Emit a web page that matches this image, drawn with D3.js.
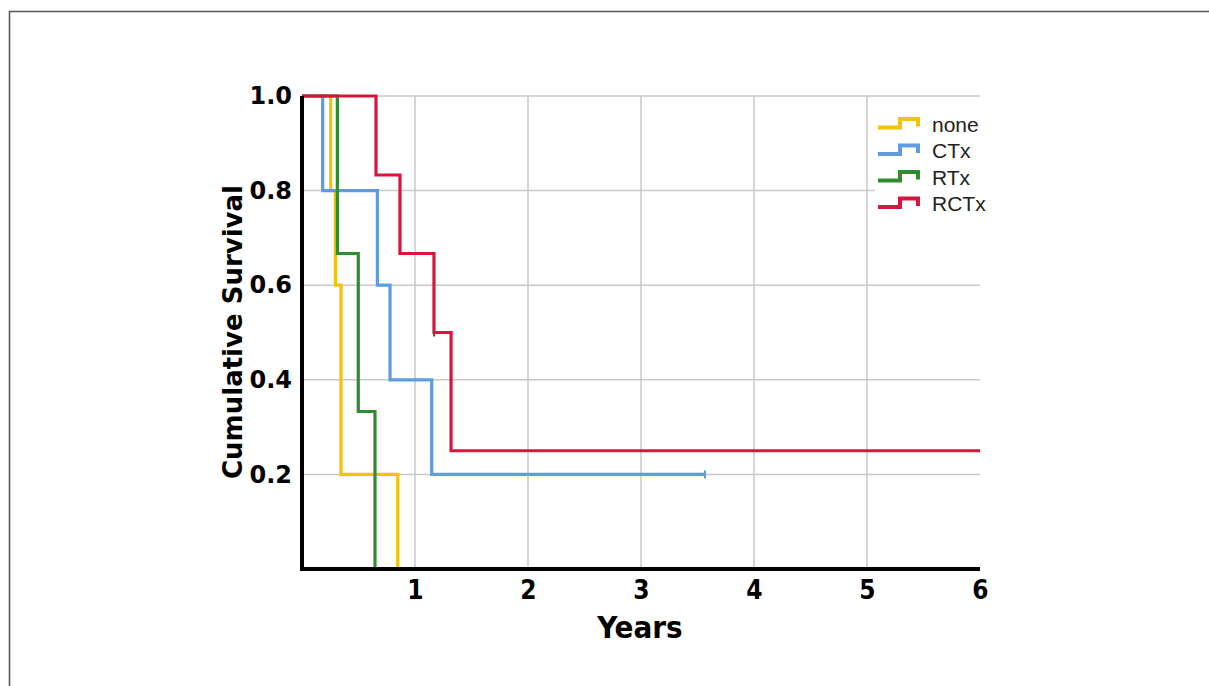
<!DOCTYPE html>
<html>
<head>
<meta charset="utf-8">
<script src="https://cdn.jsdelivr.net/npm/d3@7"></script>
<style>
  html, body { margin: 0; padding: 0; background: #fff; }
  svg { display: block; }
</style>
</head>
<body>
<svg id="chart" width="1209" height="686"></svg>
<script>
// Kaplan-Meier survival by treatment group (time in years)
const groupNames = ["none", "CTx", "RTx", "RCTx"];

const noneTimes = [0, 0.254, 0.296, 0.345, 0.847];
const noneSurv  = [1.0, 0.8, 0.6, 0.2, 0.0];

const ctxTimes = [0, 0.183, 0.667, 0.779, 1.148];
const ctxSurv  = [1.0, 0.8, 0.6, 0.4, 0.2];
const ctxEnd   = 3.566;

const rtxTimes = [0, 0.313, 0.498, 0.646];
const rtxSurv  = [1.0, 0.667, 0.333, 0.0];

const rctxTimes = [0, 0.655, 0.867, 1.168, 1.319];
const rctxSurv  = [1.0, 0.833, 0.667, 0.5, 0.25];
const rctxEnd   = 6;

// censored observations: [time, survival]
const ctxCensored  = [[3.566, 0.2]];
const rctxCensored = [[1.168, 0.5]];

const xTicks = [1, 2, 3, 4, 5, 6];
const yTicks = [0.2, 0.4, 0.6, 0.8, 1.0];

const colors = {
  none: "#f5c20a",
  CTx:  "#5e9be0",
  RTx:  "#2f8c2f",
  RCTx: "#d5173e"
};

const svg = d3.select("#chart");

// outer frame
svg.append("rect")
  .attr("x", 9.5).attr("y", 11.5)
  .attr("width", 1300).attr("height", 800)
  .attr("fill", "none")
  .attr("stroke", "#555").attr("stroke-width", 1.5);

const x = d3.scaleLinear().domain([0, 6]).range([302, 980]);
const y = d3.scaleLinear().domain([0, 1]).range([569, 96]);

// grid
const grid = svg.append("g");
grid.selectAll("line.h").data(yTicks).join("line")
  .attr("x1", x(0)).attr("x2", x(6))
  .attr("y1", d => y(d)).attr("y2", d => y(d))
  .attr("stroke", "#c9c9c9").attr("stroke-width", 1.5);
grid.selectAll("line.v").data(xTicks.filter(d => d < 6)).join("line")
  .attr("x1", d => x(d)).attr("x2", d => x(d))
  .attr("y1", y(1)).attr("y2", y(0))
  .attr("stroke", "#c9c9c9").attr("stroke-width", 1.5);

// axes
const xAxis = d3.axisBottom(x).tickValues(xTicks).tickSize(0).tickPadding(12)
  .tickFormat(d3.format("d"));
const gx = svg.append("g").attr("transform", `translate(0,${y(0)})`).call(xAxis);
gx.select(".domain").remove();
gx.selectAll("text")
  .attr("font-family", "'Liberation Sans Narrow', 'DejaVu Sans Condensed', sans-serif")
  .attr("font-weight", "bold").attr("font-size", 26).attr("fill", "#000");

const yAxis = d3.axisLeft(y).tickValues(yTicks).tickSize(0).tickPadding(10)
  .tickFormat(d3.format(".1f"));
const gy = svg.append("g").attr("transform", `translate(${x(0)},0)`).call(yAxis);
gy.select(".domain").remove();
gy.selectAll("text")
  .attr("font-family", "'DejaVu Sans', sans-serif")
  .attr("font-weight", "bold").attr("font-size", 24).attr("fill", "#000");

// step curve builder
function stepPath(times, surv, end) {
  const pts = [];
  for (let i = 0; i < times.length; i++) {
    pts.push([times[i], surv[i]]);
    const next = i + 1 < times.length ? times[i + 1] : end;
    if (next !== undefined) pts.push([next, surv[i]]);
  }
  return pts;
}

const series = [
  { name: "none", pts: stepPath(noneTimes, noneSurv), censored: [] },
  { name: "CTx",  pts: stepPath(ctxTimes, ctxSurv, ctxEnd), censored: ctxCensored },
  { name: "RTx",  pts: stepPath(rtxTimes, rtxSurv), censored: [] },
  { name: "RCTx", pts: stepPath(rctxTimes, rctxSurv, rctxEnd), censored: rctxCensored }
];

const line = d3.line().x(d => x(d[0])).y(d => y(d[1]));

// legend background hides grid under it
const legend = svg.append("g");
legend.append("rect")
  .attr("x", 875).attr("y", 106).attr("width", 115).attr("height", 108)
  .attr("fill", "#fff");

const curves = svg.append("g");
series.forEach(s => {
  curves.append("path")
    .attr("d", line(s.pts))
    .attr("fill", "none")
    .attr("stroke", colors[s.name])
    .attr("stroke-width", 3.2)
    .attr("stroke-linejoin", "miter");
  curves.selectAll(null).data(s.censored).join("line")
    .attr("x1", d => x(d[0])).attr("x2", d => x(d[0]))
    .attr("y1", d => y(d[1]) - 4).attr("y2", d => y(d[1]) + 4)
    .attr("stroke", colors[s.name]).attr("stroke-width", 2);
});

// axis lines
svg.append("line")
  .attr("x1", x(0)).attr("x2", x(0)).attr("y1", y(1)).attr("y2", y(0) + 2)
  .attr("stroke", "#000").attr("stroke-width", 4);
svg.append("line")
  .attr("x1", x(0) - 2).attr("x2", x(6)).attr("y1", y(0)).attr("y2", y(0))
  .attr("stroke", "#000").attr("stroke-width", 4);

// axis titles
svg.append("text")
  .attr("x", 640).attr("y", 638)
  .attr("text-anchor", "middle")
  .attr("font-family", "'Liberation Sans Narrow', 'DejaVu Sans Condensed', sans-serif")
  .attr("font-weight", "bold").attr("font-size", 31).attr("fill", "#000")
  .text("Years");

svg.append("text")
  .attr("transform", `translate(242,332) rotate(-90)`)
  .attr("text-anchor", "middle")
  .attr("font-family", "'DejaVu Sans', sans-serif")
  .attr("font-weight", "bold").attr("font-size", 26).attr("fill", "#000")
  .text("Cumulative Survival");

// legend entries
const rows = legend.selectAll("g.row").data(groupNames).join("g")
  .attr("transform", (d, i) => `translate(0,${124 + i * 26.5})`);
rows.append("path")
  .attr("d", "M878,3.5 H900 V-5 H918 V2.5")
  .attr("fill", "none")
  .attr("stroke", d => colors[d])
  .attr("stroke-width", 4);
rows.append("text")
  .attr("x", 932).attr("y", 7.5)
  .attr("font-family", "'Liberation Sans', Arial, sans-serif")
  .attr("font-size", 21).attr("fill", "#222")
  .text(d => d);
</script>
</body>
</html>
